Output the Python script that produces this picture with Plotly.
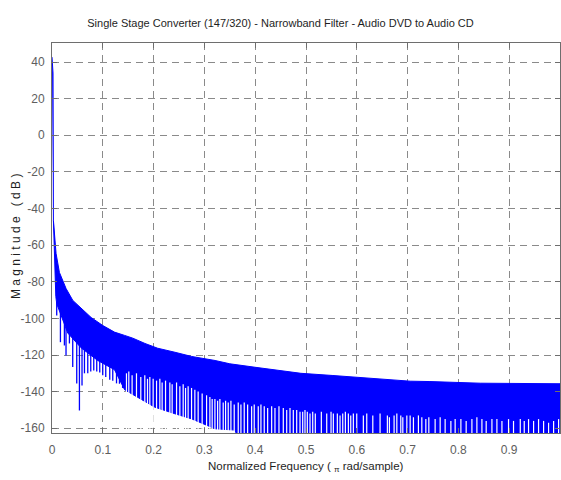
import numpy as np
import plotly.graph_objects as go

# ---------------- data ----------------
title_text = "Single Stage Converter (147/320) - Narrowband Filter - Audio DVD to Audio CD"

x_ticks = [0, 0.1, 0.2, 0.3, 0.4, 0.5, 0.6, 0.7, 0.8, 0.9]
x_tick_labels = ["0", "0.1", "0.2", "0.3", "0.4", "0.5", "0.6", "0.7", "0.8", "0.9"]
y_ticks = [-160, -140, -120, -100, -80, -60, -40, -20, 0, 20, 40]
y_tick_labels = ["-160", "-140", "-120", "-100", "-80", "-60", "-40", "-20", "0", "20", "40"]

# upper envelope of the magnitude response (normalized freq, dB)
upper_f = [0.0, 0.002, 0.0028, 0.0045, 0.008, 0.0146, 0.0277, 0.041, 0.0572, 0.077,
           0.100, 0.123, 0.143, 0.159, 0.183, 0.208, 0.242, 0.275, 0.321, 0.350,
           0.400, 0.445, 0.490, 0.553, 0.612, 0.660, 0.705, 0.744, 0.843, 1.0]
upper_db = [42.7, 34.0, -46.5, -54.0, -64.5, -74.9, -83.7, -90.2, -94.6, -99.5,
            -103.9, -107.5, -109.3, -110.8, -113.7, -116.3, -118.5, -120.8, -123.0, -124.8,
            -126.7, -128.5, -130.0, -131.2, -132.5, -133.6, -134.3, -134.5, -135.4, -135.7]

# lower edge of the dense (solid) part of the response
lower_f = [0.0028, 0.005, 0.0075, 0.0093, 0.0146, 0.031, 0.057, 0.090, 0.123, 0.143,
           0.2024, 0.242, 0.275, 0.321, 0.360, 0.380, 1.0]
lower_db = [-46.5, -62.0, -88.0, -92.0, -96.0, -108.0, -116.0, -123.0, -128.0, -139.0,
            -148.5, -152.1, -154.9, -160.3, -161.0, -175.0, -175.0]

# isolated deep nulls (spikes) in the early stopband
spike_f = [0.0093, 0.0166, 0.0244, 0.0276, 0.0343, 0.0408, 0.0487, 0.054, 0.0591, 0.0639,
           0.0704, 0.0763, 0.0822, 0.0881, 0.094, 0.0999, 0.1058, 0.1137, 0.1196, 0.127,
           0.1328, 0.139]
spike_db = [-98.4, -113.0, -114.8, -120.3, -113.7, -126.6, -135.6, -150.3, -136.7, -130.0,
            -130.0, -129.0, -128.5, -129.0, -129.5, -131.0, -132.0, -133.5, -134.0, -135.5,
            -135.7, -138.0]

# frequencies where the nulls stay shallow (white slivers) and their depth
gap_f = [0.1466, 0.1512, 0.1577, 0.1663, 0.1748, 0.1827, 0.1880, 0.1926, 0.1991, 0.2058,
         0.2123, 0.2168, 0.2235, 0.2320, 0.2365, 0.2452, 0.2517, 0.2582, 0.2629, 0.2680,
         0.2747, 0.2812, 0.2877, 0.2956, 0.3043, 0.3108, 0.3153,
         0.3207, 0.3260, 0.3305, 0.3370, 0.3417, 0.3469, 0.3522, 0.3587, 0.3666, 0.3719,
         0.3784, 0.3851, 0.3930, 0.3981, 0.4060, 0.4113, 0.4178, 0.4245, 0.4324, 0.4389,
         0.4468, 0.4553, 0.4620, 0.4685, 0.4750, 0.4817, 0.4882,
         0.4935, 0.4980, 0.5026, 0.5079, 0.5132, 0.5183, 0.5302, 0.5408, 0.5493, 0.5538,
         0.5617, 0.5670, 0.5723, 0.5775, 0.5834, 0.5881, 0.5932, 0.5999, 0.6129, 0.6196,
         0.6315, 0.6458, 0.6602, 0.6642, 0.6734, 0.6788, 0.6866, 0.6906, 0.6985, 0.7050,
         0.7115, 0.7213, 0.7280, 0.7359, 0.7418,
         0.7542, 0.7641, 0.7739, 0.7852, 0.7936, 0.8049, 0.8153, 0.8266, 0.8364, 0.8463,
         0.8547, 0.8660, 0.8758, 0.8857, 0.8987, 0.9085, 0.9218, 0.9296, 0.9381, 0.9480,
         0.9578, 0.9677, 0.9775, 0.9874, 0.9972]
gap_db = [-130, -129, -131, -130, -132, -131, -133, -132, -133, -134,
          -133, -135, -134, -135, -136, -135, -137, -136, -138, -137,
          -138, -139, -140, -141, -142, -143, -144,
          -144, -145, -144, -146, -145, -146, -145, -147, -146, -147,
          -146, -147, -148, -147, -148, -147, -148, -149, -148, -149,
          -148, -149, -150, -149, -150, -150, -151,
          -151, -150, -151, -152, -151, -152, -151, -152, -151, -152,
          -152, -153, -152, -151, -152, -153, -152, -152, -153, -152,
          -153, -152, -153, -154, -153, -152, -153, -154, -153, -153,
          -154, -153, -154, -155, -154,
          -155, -154, -155, -156, -155, -155, -156, -155, -154, -155,
          -156, -155, -155, -156, -155, -156, -155, -156, -155, -156,
          -155, -156, -157, -156, -155]

# ---------------- figure ----------------
BLUE = "#0000FF"
GRID = "#8a8a8a"
AXIS = "#6e6e6e"
TICKC = "#5e5e5e"
FONT = "Liberation Sans, Arial, sans-serif"

fig = go.Figure()

# dense body of the response
poly_x = list(upper_f) + list(lower_f[::-1])
poly_y = list(upper_db) + list(lower_db[::-1])
fig.add_trace(go.Scatter(x=poly_x, y=poly_y, mode="lines", fill="toself",
                         fillcolor=BLUE, line=dict(color=BLUE, width=1),
                         hoverinfo="skip", showlegend=False))

# deep spikes
sx, sy = [], []
for f, d in zip(spike_f, spike_db):
    top = float(np.interp(f, lower_f, lower_db)) + 1.0
    sx += [f, f, None]
    sy += [top, d, None]
fig.add_trace(go.Scatter(x=sx, y=sy, mode="lines", line=dict(color=BLUE, width=1.3),
                         hoverinfo="skip", showlegend=False))

# shallow nulls (white slivers)
gx, gy = [], []
for f, d in zip(gap_f, gap_db):
    gx += [f, f, None]
    gy += [-180, d, None]
fig.add_trace(go.Scatter(x=gx, y=gy, mode="lines", line=dict(color="white", width=1.2),
                         hoverinfo="skip", showlegend=False))

axis_common = dict(showline=True, linecolor=AXIS, linewidth=1, mirror="ticks",
                   ticks="inside", ticklen=5, tickcolor=AXIS, tickwidth=1,
                   showgrid=True, gridcolor=GRID, gridwidth=1, griddash="7px,5px",
                   zeroline=False, tickfont=dict(family=FONT, size=12, color=TICKC))

fig.update_xaxes(range=[0, 1], tickvals=x_ticks, ticktext=x_tick_labels,
                 ticklabelstandoff=6, **axis_common)
fig.update_yaxes(range=[-162.6, 50.4], tickvals=y_ticks, ticktext=y_tick_labels,
                 ticklabelstandoff=4, **axis_common)

fig.update_layout(
    width=561, height=480,
    margin=dict(l=52, r=1, t=43, b=47),
    paper_bgcolor="white", plot_bgcolor="white",
    title=dict(text=title_text, x=0.5, xref="container", xanchor="center",
               y=1 - 23 / 480, yref="container", yanchor="middle",
               font=dict(family=FONT, size=11, color="#1e1e1e")),
    annotations=[
        dict(text="Normalized Frequency ( <sub>π</sub> rad/sample)", xref="paper", yref="paper",
             x=0.5, y=(433 - 467) / 390, xanchor="center", yanchor="middle", showarrow=False,
             font=dict(family=FONT, size=11.5, color="#1e1e1e")),
        dict(text="M a g n i t u d e   ( d B )", xref="paper", yref="paper",
             x=(16 - 52) / 508, y=(433 - 237) / 390, xanchor="center", yanchor="middle",
             showarrow=False, textangle=-90,
             font=dict(family=FONT, size=12, color="#1e1e1e")),
    ],
)

fig.write_html("out.html")
